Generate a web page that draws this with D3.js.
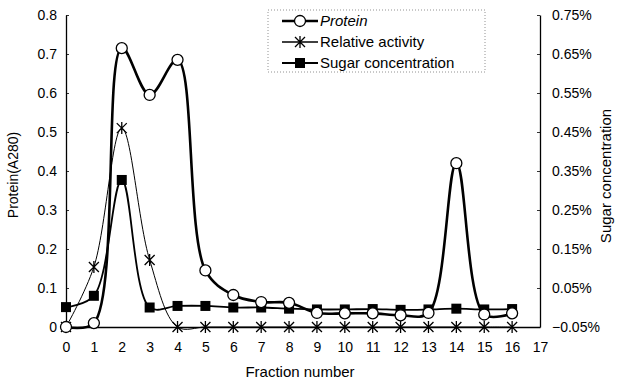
<!DOCTYPE html>
<html>
<head>
<meta charset="utf-8">
<script src="https://cdn.jsdelivr.net/npm/d3@7"></script>
<style>
  body { margin: 0; background: #fff; }
  text { font-family: "Liberation Sans", Arial, sans-serif; fill: #000; }
</style>
</head>
<body>
<script>
// Chart basic vars
var width = 619,
    height = 385;

// data
var fractions = d3.range(0, 17);
var protein = [0, 0.01, 0.715, 0.595, 0.685, 0.145, 0.082, 0.064, 0.062, 0.036, 0.035, 0.035, 0.03, 0.036, 0.42, 0.032, 0.035];
var activity = [0, 0.154, 0.51, 0.172, 0, 0, 0, 0, 0, 0, 0, 0, 0, 0, 0, 0, 0];
var sugar = [0.001, 0.03, 0.327, 0.0, 0.004, 0.004, 0.0, 0.0, -0.003, -0.005, -0.005, -0.004, -0.006, -0.005, -0.003, -0.005, -0.004];
var xTicks = d3.range(0, 18);
var yTicks = [0, 0.1, 0.2, 0.3, 0.4, 0.5, 0.6, 0.7, 0.8];
var y2Ticks = [-0.05, 0.05, 0.15, 0.25, 0.35, 0.45, 0.55, 0.65, 0.75];
var seriesNames = ['Protein', 'Relative activity', 'Sugar concentration'];

// scales -> axes
var x = d3.scaleLinear().domain([0, 17]).range([66, 540]),
    y = d3.scaleLinear().domain([0, 0.8]).range([327, 15]),
    y2 = d3.scaleLinear().domain([-0.05, 0.75]).range([327, 15]);

var svg = d3.select('body').append('svg')
    .attr('width', width)
    .attr('height', height);

var fmt = function(d) { return d === 0 ? '0' : d3.format('.1f')(d); };
var fmt2 = function(d) { return (d < 0 ? '\u2212' : '') + d3.format('.2f')(Math.abs(d)) + '%'; };

function styleAxis(g) {
    g.select('.domain').attr('stroke', '#000').attr('stroke-width', 1.3);
    g.selectAll('.tick line').attr('stroke', '#000').attr('stroke-width', 0.8);
    g.selectAll('.tick text').style('font-size', '14px').style('font-family', '"Liberation Sans", Arial, sans-serif');
}

svg.append('g')
    .attr('transform', 'translate(0,327)')
    .call(d3.axisBottom(x).tickValues(xTicks).tickSize(0).tickPadding(15).tickFormat(d3.format('d')))
    .call(styleAxis);

svg.append('g')
    .attr('transform', 'translate(66,0)')
    .call(d3.axisLeft(y).tickValues(yTicks).tickSizeInner(-3).tickSizeOuter(0).tickPadding(9).tickFormat(fmt))
    .call(styleAxis);

svg.append('g')
    .attr('transform', 'translate(540,0)')
    .call(d3.axisRight(y2).tickValues(y2Ticks).tickSizeInner(-3).tickSizeOuter(0).tickPadding(12).tickFormat(fmt2))
    .call(styleAxis);

// axis titles
svg.append('text').attr('x', 300).attr('y', 377).attr('text-anchor', 'middle')
    .style('font-size', '15px').text('Fraction number');
svg.append('text').attr('transform', 'translate(18,175) rotate(-90)').attr('text-anchor', 'middle')
    .style('font-size', '14px').text('Protein(A280)');
svg.append('text').attr('transform', 'translate(611,176) rotate(-90)').attr('text-anchor', 'middle')
    .style('font-size', '15px').text('Sugar concentration');

var curve = d3.curveCatmullRom.alpha(0.5);

function lineFor(vals, scale) {
    return d3.line()
        .x(function(d, i) { return x(fractions[i]); })
        .y(function(d) { return scale(d); })
        .curve(curve)(vals);
}

// lines
svg.append('path').attr('d', lineFor(activity, y))
    .attr('fill', 'none').attr('stroke', '#000').attr('stroke-width', 1);
svg.append('path').attr('d', lineFor(sugar, y2))
    .attr('fill', 'none').attr('stroke', '#000').attr('stroke-width', 1.8);
svg.append('path').attr('d', lineFor(protein, y))
    .attr('fill', 'none').attr('stroke', '#000').attr('stroke-width', 2.6);

// markers
function star(g) {
    g.append('path').attr('d', 'M-5,-5L5,5M-5,5L5,-5M0,-6L0,6')
        .attr('stroke', '#000').attr('stroke-width', 1.3).attr('fill', 'none');
}
function square(g) {
    g.append('rect').attr('x', -5).attr('y', -5).attr('width', 10).attr('height', 10).attr('fill', '#000');
}
function circle(g) {
    g.append('circle').attr('r', 5.5).attr('fill', '#fff').attr('stroke', '#000').attr('stroke-width', 1.3);
}

svg.selectAll('.sq').data(sugar).enter().append('g')
    .attr('transform', function(d, i) { return 'translate(' + x(fractions[i]) + ',' + y2(d) + ')'; })
    .each(function() { square(d3.select(this)); });
svg.selectAll('.st').data(activity).enter().append('g')
    .attr('transform', function(d, i) { return 'translate(' + x(fractions[i]) + ',' + y(d) + ')'; })
    .each(function() { star(d3.select(this)); });
svg.selectAll('.ci').data(protein).enter().append('g')
    .attr('transform', function(d, i) { return 'translate(' + x(fractions[i]) + ',' + y(d) + ')'; })
    .each(function() { circle(d3.select(this)); });

// legend
var legend = svg.append('g');
legend.append('rect').attr('x', 268).attr('y', 10).attr('width', 217).attr('height', 62)
    .attr('fill', 'none').attr('stroke', '#777').attr('stroke-width', 0.8).attr('stroke-dasharray', '1,2');
var markers = [circle, star, square],
    widths = [2.6, 1, 1.8];
seriesNames.forEach(function(name, i) {
    var ly = 21 + i * 21;
    legend.append('line').attr('x1', 282).attr('x2', 318).attr('y1', ly).attr('y2', ly)
        .attr('stroke', '#000').attr('stroke-width', widths[i] < 1.5 ? 1.3 : widths[i]);
    markers[i](legend.append('g').attr('transform', 'translate(300,' + ly + ')'));
    legend.append('text').attr('x', 320).attr('y', ly + 5)
        .style('font-size', '15px').style('font-style', i === 0 ? 'italic' : 'normal').text(name);
});
</script>
</body>
</html>
